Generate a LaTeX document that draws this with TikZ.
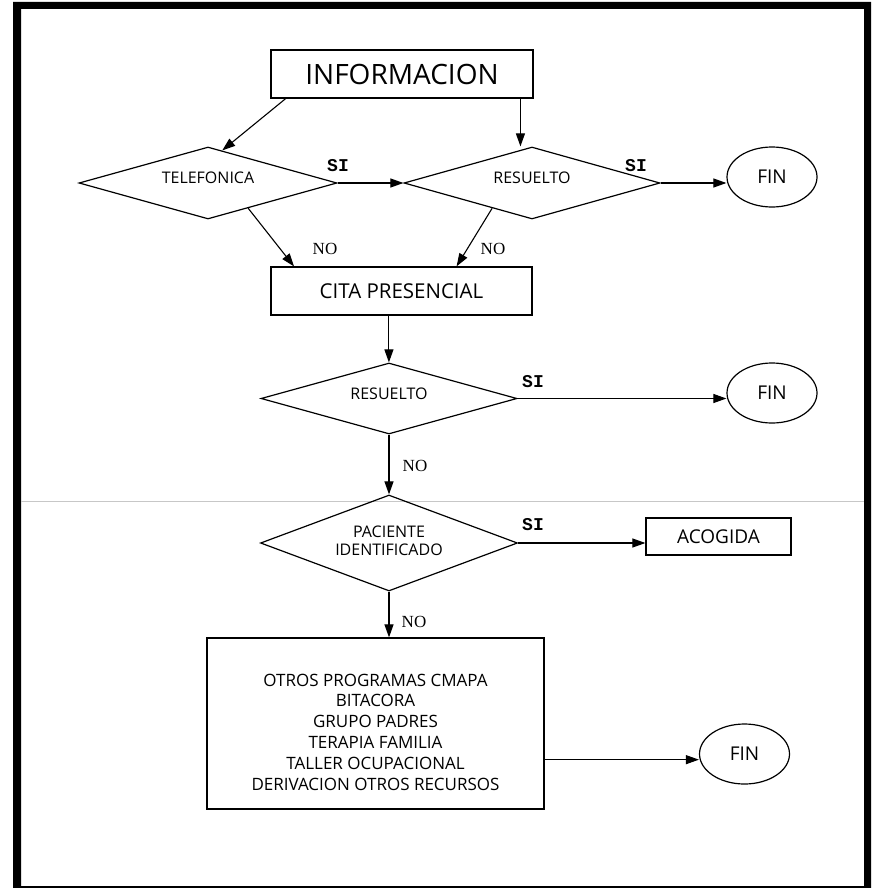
\documentclass[tikz,border=0pt]{standalone}
\usepackage{fontspec}
\setmainfont{Open Sans}
\newfontfamily\nofont{Liberation Serif}
\newfontfamily\sifont{Liberation Mono}
\usetikzlibrary{shapes.geometric,arrows.meta,calc}
\begin{document}
\begin{tikzpicture}[x=1pt,y=-1pt,
  line width=1.2pt,
  box/.style={draw, rectangle, inner sep=0pt},
  dec/.style={draw, diamond, inner sep=0pt, aspect=3.5},
  term/.style={draw, ellipse, inner sep=0pt, minimum width=90pt, minimum height=60pt, font=\fontsize{19}{20}\selectfont},
  arr/.style={-{Triangle[length=13pt,width=9pt]}, line width=1.1pt},
  silab/.style={font=\sifont\bfseries\fontsize{18}{18}\selectfont},
  nolab/.style={font=\nofont\fontsize{17}{18}\selectfont},
  dtext/.style={font=\fontsize{16}{18}\selectfont}
]
\useasboundingbox (0,0) rectangle (871,888);
\fill[even odd rule] (13,2) rectangle (871,888) (21,9) rectangle (864,886);
\draw[black!22, line width=1pt] (21,501) -- (864,501);

% nodes
\node[box, minimum width=262pt, minimum height=48pt, font=\fontsize{28}{30}\selectfont] (info) at (402,74) {INFORMACION};
\node[dec, minimum width=258pt, minimum height=72pt, label={[dtext, yshift=5pt]center:TELEFONICA}] (tel) at (208,183) {};
\node[dec, minimum width=256pt, minimum height=72pt, label={[dtext, yshift=5pt]center:RESUELTO}] (res1) at (532,183) {};
\node[term] (fin1) at (772,177) {FIN};
\node[box, minimum width=261pt, minimum height=48pt, font=\fontsize{20.5}{22}\selectfont] (cita) at (401.5,291) {CITA PRESENCIAL};
\node[dec, minimum width=256pt, minimum height=71pt, label={[dtext, yshift=5pt]center:RESUELTO}] (res2) at (389,398.5) {};
\node[term] (fin2) at (772,393) {FIN};
\node[dec, minimum width=257pt, minimum height=96pt, label={[dtext, align=center, yshift=2pt]center:{PACIENTE\\IDENTIFICADO}}] (pac) at (389,543) {};
\node[box, minimum width=145pt, minimum height=37pt, font=\fontsize{19}{20}\selectfont] (acog) at (718.5,536.5) {ACOGIDA};
\node[box, minimum width=337pt, minimum height=171pt] (big) at (375.5,723.5) {};
\node[font=\fontsize{17}{20.8}\selectfont, align=center] (bigtext) at (375.5,732) {OTROS PROGRAMAS CMAPA\\BITACORA\\GRUPO PADRES\\TERAPIA FAMILIA\\TALLER OCUPACIONAL\\DERIVACION OTROS RECURSOS};
\node[term] (fin3) at (744.5,754) {FIN};

% labels
\node[silab] (si1) at (338,166) {SI};
\node[silab] (si2) at (636,166) {SI};
\node[silab] (si3) at (533,382) {SI};
\node[silab] (si4) at (533,525) {SI};
\node[nolab] (no1) at (325,249) {NO};
\node[nolab] (no2) at (493,249) {NO};
\node[nolab] (no3) at (415,466) {NO};
\node[nolab] (no4) at (414,622) {NO};

% connectors
\coordinate (i1) at ($(info.south west)!0.058!(info.south east)$);
\coordinate (t1) at ($(tel.north)!0.11!(tel.east)$);
\draw[arr] (i1) -- (t1);
\coordinate (i2) at ($(info.south west)!0.95!(info.south east)$);
\draw[arr] (i2) -- (i2 |- res1.north);
\draw[arr] (tel.east) -- (res1.west);
\draw[arr] (res1.east) -- (res1.east -| fin1.west);
\draw[arr] ($(tel.south)!0.31!(tel.east)$) -- ($(cita.north west)!0.09!(cita.north east)$);
\draw[arr] ($(res1.south)!0.31!(res1.west)$) -- ($(cita.north west)!0.71!(cita.north east)$);
\coordinate (c1) at ($(cita.south west)!0.452!(cita.south east)$);
\draw[arr] (c1) -- (c1 |- res2.north);
\draw[arr] (res2.east) -- (res2.east -| fin2.west);
\draw[arr] (res2.south) -- (pac.north);
\draw[arr] (pac.east) -- (pac.east -| acog.west);
\draw[arr] (pac.south) -- (pac.south |- big.north);
\coordinate (b1) at ($(big.north east)!0.71!(big.south east)$);
\draw[arr] (b1) -- (b1 -| fin3.west);
\end{tikzpicture}
\end{document}
